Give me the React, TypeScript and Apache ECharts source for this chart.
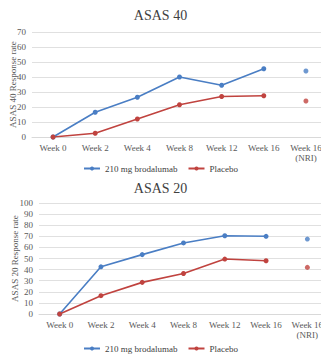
import React, { useEffect, useRef } from "react";
import * as echarts from "echarts";

const categories = ["Week 0", "Week 2", "Week 4", "Week 8", "Week 12", "Week 16", "Week 16\n(NRI)"];

const asas40Brodalumab = [0, 16.5, 26.5, 40, 34.5, 45.5];
const asas40Placebo = [0, 2.5, 12, 21.5, 27, 27.5];
const asas40BrodalumabNRI = 44;
const asas40PlaceboNRI = 24;

const asas20Brodalumab = [0, 42.5, 53.5, 64, 70.5, 70];
const asas20Placebo = [0, 16.5, 28.5, 36.5, 49.5, 48];
const asas20BrodalumabNRI = 67.5;
const asas20PlaceboNRI = 42;

const BLUE = "#4A7EC4";
const RED = "#C0433F";
const FONT = "'Liberation Serif', 'DejaVu Serif', serif";
const NAME_B = "210 mg brodalumab";
const NAME_P = "Placebo";

function nriData(v: number) {
  return categories.map((_, i) => (i === categories.length - 1 ? v : "-"));
}

export default function App() {
  const ref = useRef<HTMLDivElement>(null);
  useEffect(() => {
    document.body.style.margin = "0";
    const chart = echarts.init(ref.current!, undefined, { renderer: "svg" });
    const lineSeries = (name: string, color: string, data: any[], idx: number) => ({
      type: "line",
      name,
      data,
      xAxisIndex: idx,
      yAxisIndex: idx,
      symbol: "circle",
      symbolSize: 5,
      itemStyle: { color },
      lineStyle: { color, width: 1.6 },
    });
    const scatterSeries = (name: string, color: string, v: number, idx: number) => ({
      type: "scatter",
      name,
      data: nriData(v),
      xAxisIndex: idx,
      yAxisIndex: idx,
      symbol: "circle",
      symbolSize: 5,
      itemStyle: { color },
    });
    const xAxis = (idx: number) => ({
      type: "category",
      gridIndex: idx,
      data: categories,
      boundaryGap: true,
      axisLine: { lineStyle: { color: "#d9d9d9" } },
      axisTick: { show: false },
      axisLabel: { color: "#595959", fontFamily: FONT, fontSize: 9, lineHeight: 10, margin: 6, interval: 0, hideOverlap: false },
    });
    const yAxis = (idx: number, max: number, name: string, gap: number) => ({
      type: "value",
      gridIndex: idx,
      min: 0,
      max,
      interval: 10,
      name,
      nameLocation: "middle",
      nameRotate: 90,
      nameGap: gap,
      nameMoveOverlap: false,
      nameTextStyle: { color: "#595959", fontFamily: FONT, fontSize: 9 },
      axisLine: { show: false },
      axisTick: { show: false },
      axisLabel: { color: "#595959", fontFamily: FONT, fontSize: 9, margin: 6 },
      splitLine: { lineStyle: { color: "#e0e0e0" } },
    });
    const legend = (top: number) => ({
      top,
      left: "center",
      padding: 0,
      itemWidth: 16,
      itemHeight: 5,
      itemGap: 10,
      textStyle: { color: "#404040", fontFamily: FONT, fontSize: 9 },
      data: [NAME_B, NAME_P],
    });
    const titleStyle = { fontFamily: FONT, fontSize: 14, fontWeight: "normal", color: "#404040" };
    chart.setOption({
      animation: false,
      title: [
        { text: "ASAS 40", left: "center", top: 8, padding: 0, textStyle: titleStyle },
        { text: "ASAS 20", left: "center", top: 181, padding: 0, textStyle: titleStyle },
      ],
      legend: [legend(164), legend(344)],
      grid: [
        { left: 32, right: -6, top: 32, height: 105, outerBoundsMode: "none", containLabel: false },
        { left: 39, right: -7, top: 203, height: 111, outerBoundsMode: "none", containLabel: false },
      ],
      xAxis: [xAxis(0), xAxis(1)],
      yAxis: [yAxis(0, 70, "ASAS 40 Response rate", 14.5), yAxis(1, 100, "ASAS 20 Response rate", 20)],
      series: [
        lineSeries(NAME_B, BLUE, asas40Brodalumab, 0),
        lineSeries(NAME_P, RED, asas40Placebo, 0),
        scatterSeries(NAME_B, BLUE, asas40BrodalumabNRI, 0),
        scatterSeries(NAME_P, RED, asas40PlaceboNRI, 0),
        lineSeries(NAME_B, BLUE, asas20Brodalumab, 1),
        lineSeries(NAME_P, RED, asas20Placebo, 1),
        scatterSeries(NAME_B, BLUE, asas20BrodalumabNRI, 1),
        scatterSeries(NAME_P, RED, asas20PlaceboNRI, 1),
      ],
    });
    return () => chart.dispose();
  }, []);
  return <div ref={ref} style={{ width: 321, height: 354 }} />;
}
